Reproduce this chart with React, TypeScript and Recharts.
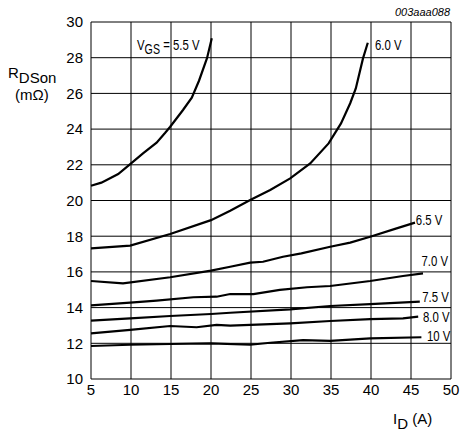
import { LineChart, Line, XAxis, YAxis, CartesianGrid, ReferenceDot } from "recharts";

// drain current (A) / on-resistance (mOhm) per gate voltage curve
const id55 = [5, 6.3, 8.4, 9.9, 11.5, 13.2, 14.25, 14.9, 16.5, 17.6, 18.5, 19.5, 20.1];
const r55 = [20.83, 21.0, 21.48, 22.04, 22.64, 23.24, 23.78, 24.13, 25.07, 25.76, 26.71, 27.97, 29.09];

const id60 = [5, 9.9, 14.9, 20, 22.4, 24.9, 27.4, 29.9, 32.4, 34.7, 36.25, 37.4, 38.1, 39.0, 39.6];
const r60 = [17.32, 17.47, 18.12, 18.9, 19.43, 20.03, 20.59, 21.24, 22.08, 23.2, 24.32, 25.45, 26.28, 27.96, 28.84];

const id65 = [5, 9, 14.9, 20, 22.4, 24.9, 26.5, 29, 31.3, 34.9, 37.4, 39.9, 43.2, 45.5];
const r65 = [15.49, 15.36, 15.7, 16.07, 16.29, 16.52, 16.57, 16.85, 17.04, 17.41, 17.64, 17.97, 18.44, 18.76];

const id70 = [5, 9.9, 13.2, 17.8, 20.7, 22.4, 25.3, 28.6, 32, 34.9, 39.9, 44, 46.5];
const r70 = [14.13, 14.28, 14.39, 14.58, 14.61, 14.76, 14.76, 14.99, 15.14, 15.21, 15.49, 15.77, 15.92];

const id75 = [5, 9.9, 14.9, 20, 22.4, 29.9, 34.9, 39.9, 46.1];
const r75 = [13.27, 13.4, 13.53, 13.64, 13.71, 13.9, 14.09, 14.2, 14.33];

const id80 = [5, 9.9, 14.9, 18.2, 20.7, 22.4, 24.9, 29.9, 34.9, 39.9, 44, 45.9];
const r80 = [12.56, 12.75, 12.97, 12.9, 13.03, 12.99, 13.03, 13.12, 13.25, 13.35, 13.4, 13.49];

const id100 = [5, 9.9, 14.9, 20, 24.9, 27.4, 31.5, 34.9, 39.9, 46.3];
const r100 = [11.85, 11.92, 11.96, 12.0, 11.92, 12.03, 12.18, 12.14, 12.28, 12.34];

const xTicks = [5, 10, 15, 20, 25, 30, 35, 40, 45, 50];
const yTicks = [10, 12, 14, 16, 18, 20, 22, 24, 26, 28, 30];

// curve labels: text, anchor current, anchor resistance
const curveLabels: { text: string; i: number; r: number }[] = [
  { text: "6.0 V", i: 40.5, r: 28.7 },
  { text: "6.5 V", i: 45.6, r: 18.95 },
  { text: "7.0 V", i: 46.3, r: 16.6 },
  { text: "7.5 V", i: 46.4, r: 14.6 },
  { text: "8.0 V", i: 46.5, r: 13.5 },
  { text: "10 V", i: 47, r: 12.43 },
];

const series = [
  { key: "5.5", ids: id55, rs: r55 },
  { key: "6.0", ids: id60, rs: r60 },
  { key: "6.5", ids: id65, rs: r65 },
  { key: "7.0", ids: id70, rs: r70 },
  { key: "7.5", ids: id75, rs: r75 },
  { key: "8.0", ids: id80, rs: r80 },
  { key: "10", ids: id100, rs: r100 },
];

const SANS = "'Liberation Sans', Arial, sans-serif";

// the datasheet uses a condensed face, so squeeze the regular one
function CurveLabel(props: any) {
  const { viewBox, text, vgs } = props;
  if (!viewBox) return null;
  const x = viewBox.x + (viewBox.width || 0) / 2;
  const y = viewBox.y + (viewBox.height || 0) / 2;
  return (
    <g transform={`translate(${x},${y}) scale(0.76,1)`}>
      {vgs ? (
        <text x={0} y={0} dy="0.35em" fontFamily={SANS} fontSize={15} fill="#000">
          V<tspan fontSize={14} dy={4}>GS</tspan>
          <tspan dy={-4}> = 5.5 V</tspan>
        </text>
      ) : (
        <text x={0} y={0} dy="0.35em" fontFamily={SANS} fontSize={15} fill="#000">
          {text}
        </text>
      )}
    </g>
  );
}

export default function App() {
  return (
    <div style={{ position: "absolute", left: 0, top: 0, width: 461, height: 434, background: "#fff" }}>
      <LineChart width={461} height={434} margin={{ top: 22, right: 10, bottom: 0, left: 0 }}>
        <CartesianGrid stroke="#000" strokeWidth={1} />
        <XAxis
          type="number"
          dataKey="i"
          domain={[5, 50]}
          ticks={xTicks}
          height={55}
          axisLine={false}
          tickLine={false}
          tickSize={0}
          tickMargin={5}
          interval={0}
          tick={{ fill: "#000", fontSize: 15, fontFamily: SANS }}
        />
        <YAxis
          type="number"
          domain={[10, 30]}
          ticks={yTicks}
          width={91}
          axisLine={false}
          tickLine={false}
          tickSize={0}
          tickMargin={8}
          interval={0}
          tick={{ fill: "#000", fontSize: 15, fontFamily: SANS }}
        />
        {series.map((s) => (
          <Line
            key={s.key}
            data={s.ids.map((v, k) => ({ i: v, r: s.rs[k] }))}
            dataKey="r"
            type="linear"
            stroke="#000"
            strokeWidth={2.2}
            dot={false}
            isAnimationActive={false}
          />
        ))}
        <ReferenceDot x={10.75} y={28.7} r={0} fill="none" stroke="none" label={<CurveLabel vgs />} />
        {curveLabels.map((c) => (
          <ReferenceDot key={c.text} x={c.i} y={c.r} r={0} fill="none" stroke="none" label={<CurveLabel text={c.text} />} />
        ))}
      </LineChart>
      <svg width={461} height={434} style={{ position: "absolute", left: 0, top: 0, pointerEvents: "none" }}>
        <text x={450} y={16} textAnchor="end" fontFamily={SANS} fontStyle="italic" fontSize={11} fill="#000">
          003aaa088
        </text>
        <text x={8} y={78} fontFamily={SANS} fontSize={15} fill="#000">
          R<tspan fontSize={15} dy={5}>DSon</tspan>
        </text>
        <text x={15} y={100} fontFamily={SANS} fontSize={15} fill="#000">
          (mΩ)
        </text>
        <text x={393} y={424} fontFamily={SANS} fontSize={15} fill="#000">
          I<tspan dy={5}>D</tspan>
          <tspan dy={-5}> (A)</tspan>
        </text>
      </svg>
    </div>
  );
}
